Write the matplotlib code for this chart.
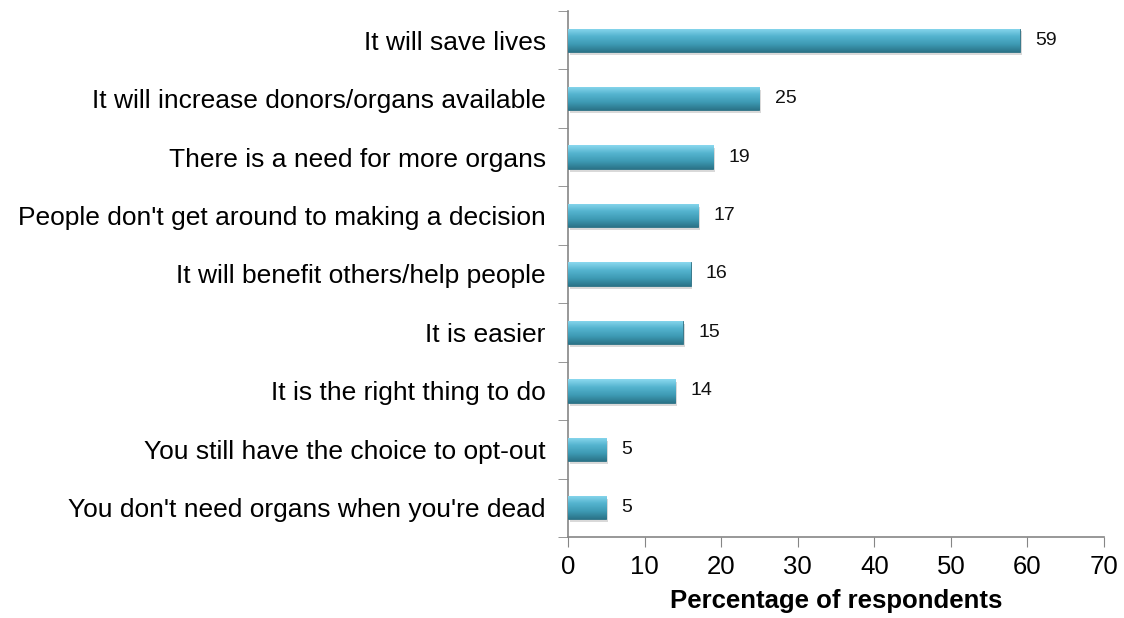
import numpy as np
import matplotlib.pyplot as plt
from matplotlib.colors import LinearSegmentedColormap

plt.rcParams["font.family"] = ["Liberation Sans", "DejaVu Sans"]

# reasons for supporting opt-out
reasons = [
    "It will save lives",
    "It will increase donors/organs available",
    "There is a need for more organs",
    "People don't get around to making a decision",
    "It will benefit others/help people",
    "It is easier",
    "It is the right thing to do",
    "You still have the choice to opt-out",
    "You don't need organs when you're dead",
]
pct = [59, 25, 19, 17, 16, 15, 14, 5, 5]
xticks = [0, 10, 20, 30, 40, 50, 60, 70]

fig = plt.figure(figsize=(11.24, 6.18), dpi=100)
ax = fig.add_axes([568 / 1124, 1 - 537 / 618, 536 / 1124, 526 / 618])

y = np.arange(len(reasons))[::-1]
bars = ax.barh(y, pct, height=0.4, color="#3f9fb9", edgecolor="#2c6f82", lw=0.6, zorder=3)

# bevel-ish gradient on each bar, clipped to the bar itself
grad_cmap = LinearSegmentedColormap.from_list(
    "bevel", ["#2b7489", "#3e9bb5", "#55b4cf", "#8ad8ef"])
grad = np.linspace(0, 1, 64).reshape(-1, 1)
for b in bars:
    x0, y0, w, h = b.get_x(), b.get_y(), b.get_width(), b.get_height()
    # faint drop shadow
    ax.add_patch(plt.Rectangle((x0 + 0.25, y0 - 0.05), w, h, color="#000000",
                               alpha=0.15, lw=0, zorder=2))
    im = ax.imshow(grad, cmap=grad_cmap, aspect="auto",
                   extent=(x0, x0 + w, y0, y0 + h), origin="lower", zorder=3.5)
    im.set_clip_path(b)

for yi, v in zip(y, pct):
    ax.text(v + 2, yi, str(v), va="center", ha="left", fontsize=14, color="#111111")

ax.set_xlim(0, 70)
ax.set_ylim(-0.5, len(reasons) - 0.5)
ax.set_xticks(xticks)
ax.set_xticklabels([str(t) for t in xticks], fontsize=18.5)
ax.set_yticks(y)
ax.set_yticklabels(reasons, fontsize=19)
ax.set_yticks(np.arange(-0.5, len(reasons), 1.0), minor=True)
ax.tick_params(axis="y", which="major", length=0, pad=16)
ax.tick_params(axis="y", which="minor", length=7, color="#868686", direction="out")
ax.tick_params(axis="x", length=7, color="#868686", direction="out", pad=6)

for side in ["top", "right"]:
    ax.spines[side].set_visible(False)
for side in ["left", "bottom"]:
    ax.spines[side].set_color("#868686")
    ax.spines[side].set_linewidth(1.2)

ax.set_xlabel("Percentage of respondents", fontsize=18.5, fontweight="bold", labelpad=7)

fig.savefig("out.png", dpi=100)
